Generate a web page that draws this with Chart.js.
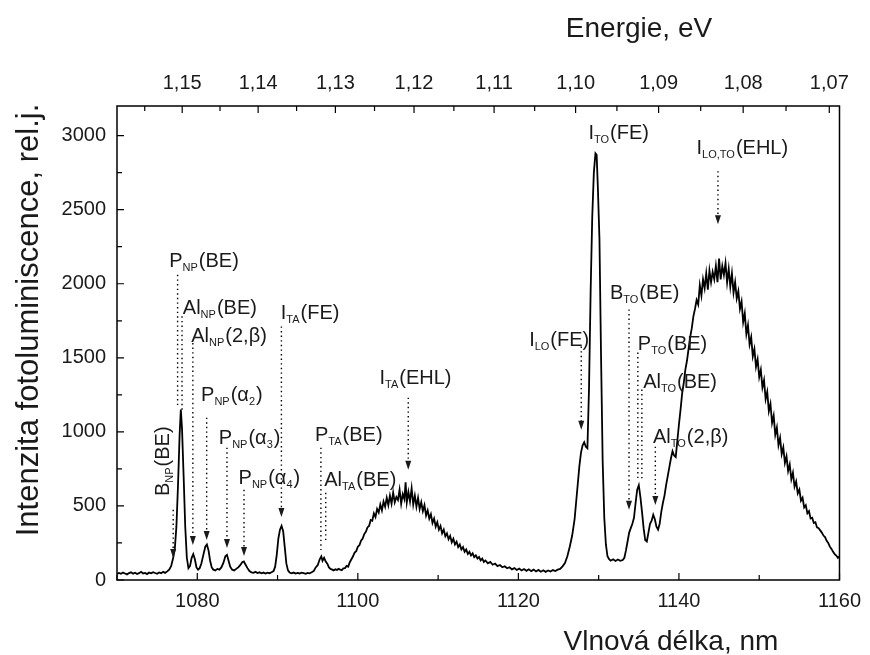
<!DOCTYPE html>
<html>
<head>
<meta charset="utf-8">
<script src="https://cdn.jsdelivr.net/npm/chart.js@4.4.0/dist/chart.umd.min.js"></script>
<style>
  body { margin: 0; background: #fff; }
  canvas { display: block; }
</style>
</head>
<body>
<canvas id="plChart" width="870" height="655"></canvas>
<script>
// photoluminescence spectrum: wavelength (nm) and intensity (rel. units)
const wavelengthNm = [
  1070.0, 1070.25, 1070.5, 1070.75, 1071.0, 1071.25, 1071.5, 1071.75, 1072.0, 1072.25,
  1072.5, 1072.75, 1073.0, 1073.25, 1073.5, 1073.75, 1074.0, 1074.25, 1074.5, 1074.75,
  1075.0, 1075.25, 1075.5, 1075.75, 1076.0, 1076.25, 1076.5, 1076.75, 1077.0, 1077.2,
  1077.4, 1077.6, 1077.8, 1077.95, 1078.1, 1078.3, 1078.5, 1078.7, 1078.9, 1079.1,
  1079.3, 1079.5, 1079.7, 1079.9, 1080.1, 1080.3, 1080.5, 1080.8, 1081.0, 1081.2,
  1081.4, 1081.6, 1081.8, 1082.0, 1082.25, 1082.5, 1082.75, 1083.0, 1083.25, 1083.5,
  1083.7, 1083.9, 1084.1, 1084.35, 1084.6, 1084.85, 1085.1, 1085.35, 1085.6, 1085.8,
  1086.0, 1086.25, 1086.5, 1086.75, 1087.0, 1087.25, 1087.5, 1087.75, 1088.0, 1088.25,
  1088.5, 1088.75, 1089.0, 1089.25, 1089.5, 1089.7, 1089.9, 1090.1, 1090.3, 1090.5,
  1090.7, 1090.9, 1091.1, 1091.3, 1091.5, 1091.75, 1092.0, 1092.25, 1092.5, 1092.75,
  1093.0, 1093.25, 1093.5, 1093.75, 1094.0, 1094.25, 1094.5, 1094.75, 1095.0, 1095.25,
  1095.45, 1095.6, 1095.8, 1096.0, 1096.2, 1096.4, 1096.6, 1096.8, 1097.0, 1097.2,
  1097.4, 1097.6, 1097.8, 1098.0, 1098.2, 1098.4, 1098.6, 1098.8, 1099.0, 1099.2,
  1099.4, 1099.6, 1099.8, 1100.0, 1100.2, 1100.4, 1100.6, 1100.8, 1101.0, 1101.2,
  1101.4, 1101.6, 1101.8, 1102.0, 1102.2, 1102.4, 1102.6, 1102.8, 1103.0, 1103.2,
  1103.4, 1103.6, 1103.8, 1104.0, 1104.2, 1104.4, 1104.6, 1104.8, 1105.0, 1105.2,
  1105.4, 1105.6, 1105.8, 1105.95, 1106.1, 1106.3, 1106.5, 1106.7, 1106.9, 1107.1,
  1107.3, 1107.5, 1107.7, 1107.9, 1108.1, 1108.3, 1108.5, 1108.7, 1108.9, 1109.1,
  1109.3, 1109.5, 1109.7, 1109.9, 1110.1, 1110.3, 1110.5, 1110.7, 1110.9, 1111.1,
  1111.3, 1111.5, 1111.7, 1111.9, 1112.1, 1112.3, 1112.5, 1112.7, 1112.9, 1113.1,
  1113.3, 1113.5, 1113.7, 1113.9, 1114.1, 1114.3, 1114.5, 1114.7, 1114.9, 1115.1,
  1115.3, 1115.5, 1115.7, 1115.9, 1116.2, 1116.5, 1116.8, 1117.1, 1117.4, 1117.7,
  1118.0, 1118.3, 1118.6, 1118.9, 1119.2, 1119.5, 1119.8, 1120.1, 1120.4, 1120.7,
  1121.0, 1121.3, 1121.6, 1121.9, 1122.2, 1122.5, 1122.8, 1123.1, 1123.4, 1123.7,
  1124.0, 1124.3, 1124.6, 1124.9, 1125.2, 1125.5, 1125.8, 1126.1, 1126.4, 1126.7,
  1127.0, 1127.2, 1127.4, 1127.6, 1127.8, 1128.0, 1128.2, 1128.4, 1128.6, 1128.8,
  1129.0, 1129.2, 1129.4, 1129.6, 1129.75, 1129.9, 1130.1, 1130.3, 1130.5, 1130.7,
  1130.9, 1131.1, 1131.3, 1131.5, 1131.8, 1132.1, 1132.4, 1132.7, 1133.0, 1133.2,
  1133.4, 1133.6, 1133.8, 1134.0, 1134.2, 1134.4, 1134.6, 1134.8, 1135.0, 1135.2,
  1135.4, 1135.6, 1135.8, 1136.0, 1136.2, 1136.4, 1136.6, 1136.8, 1137.0, 1137.2,
  1137.4, 1137.6, 1137.8, 1138.0, 1138.2, 1138.4, 1138.6, 1138.8, 1139.0, 1139.2,
  1139.4, 1139.6, 1139.8, 1140.0, 1140.2, 1140.4, 1140.6, 1140.8, 1141.0, 1141.2,
  1141.4, 1141.6, 1141.8, 1142.0, 1142.2, 1142.4, 1142.6, 1142.8, 1143.0, 1143.2,
  1143.4, 1143.6, 1143.8, 1144.0, 1144.2, 1144.4, 1144.6, 1144.8, 1145.0, 1145.2,
  1145.4, 1145.6, 1145.8, 1146.0, 1146.2, 1146.4, 1146.6, 1146.8, 1147.0, 1147.2,
  1147.4, 1147.6, 1147.8, 1148.0, 1148.2, 1148.4, 1148.6, 1148.8, 1149.0, 1149.2,
  1149.4, 1149.6, 1149.8, 1150.0, 1150.2, 1150.4, 1150.6, 1150.8, 1151.0, 1151.2,
  1151.4, 1151.6, 1151.8, 1152.0, 1152.2, 1152.4, 1152.6, 1152.8, 1153.0, 1153.2,
  1153.4, 1153.6, 1153.8, 1154.0, 1154.2, 1154.4, 1154.6, 1154.8, 1155.0, 1155.2,
  1155.4, 1155.6, 1155.8, 1156.0, 1156.2, 1156.4, 1156.6, 1156.8, 1157.0, 1157.2,
  1157.4, 1157.6, 1157.8, 1158.0, 1158.2, 1158.4, 1158.6, 1158.8, 1159.0, 1159.2,
  1159.4, 1159.6, 1159.8, 1160.0
];
const intensity = [
  40, 48, 42, 50, 44, 38, 47, 52, 43, 49,
  41, 46, 55, 44, 48, 40, 50, 45, 53, 47,
  42, 51, 46, 55, 48, 58, 70, 95, 150, 210,
  360, 640, 980, 1150, 1020, 700, 360, 150, 80, 95,
  150, 175, 140, 85, 70, 80, 110, 180, 225, 240,
  200, 130, 85, 70, 65, 75, 70, 85, 115, 160,
  170, 130, 90, 70, 65, 75, 85, 100, 120, 125,
  105, 80, 60, 52, 48, 55, 47, 52, 45, 50,
  44, 49, 46, 52, 60, 90, 170, 280, 340, 365,
  330, 220, 110, 65, 50, 45, 50, 43, 48, 44,
  50, 46, 42, 48, 45, 52, 60, 85, 100, 140,
  160, 130, 150, 125, 110, 85, 75, 70, 65, 72,
  68, 75, 70, 66, 78, 80, 95, 90, 120, 140,
  160, 185, 195, 225, 235, 265, 280, 310, 325, 355,
  365, 405, 400, 450, 425, 480, 455, 510, 470, 530,
  495, 555, 505, 570, 515, 590, 525, 560, 540, 610,
  515, 580, 545, 660, 525, 595, 530, 620, 510, 570,
  495, 555, 480, 525, 465, 505, 435, 470, 415, 445,
  385, 415, 360, 390, 340, 365, 315, 340, 295, 315,
  275, 298, 255, 278, 240, 258, 222, 240, 206, 222,
  190, 206, 176, 190, 165, 180, 154, 166, 145, 155,
  132, 144, 122, 132, 113, 122, 103, 111, 94, 101,
  86, 93, 79, 86, 72, 80, 68, 77, 64, 74,
  62, 72, 60, 70, 58, 68, 56, 66, 55, 64,
  57, 67, 60, 70, 75, 92, 115, 160, 225, 300,
  410, 530, 650, 770, 860, 910, 930, 900, 890, 1300,
  1950, 2450, 2750, 2880, 2870, 2650, 2300, 1500, 800, 420,
  240, 160, 140, 130, 140, 128, 138, 130, 135, 150,
  200, 260, 320, 350, 380, 420, 520, 610, 640, 560,
  460, 350, 270, 260, 320, 380, 400, 440, 410, 360,
  340, 380, 460, 520, 570, 640, 700, 760, 820, 870,
  840, 830, 940, 1050, 1150, 1260, 1330, 1420, 1480, 1560,
  1640, 1700, 1780, 1830, 1890, 1860, 1990, 1920, 2030, 1970,
  2070, 1960, 2090, 2010, 2080, 2030, 2120, 2010, 2170, 2030,
  2120, 2060, 2140, 2010, 2100, 1980, 2070, 1940, 2010, 1900,
  1950, 1830, 1880, 1740, 1800, 1660, 1720, 1590, 1640, 1510,
  1560, 1440, 1490, 1370, 1420, 1300, 1350, 1220, 1270, 1140,
  1190, 1060, 1110, 980, 1030, 910, 960, 850, 895, 790,
  835, 735, 780, 680, 725, 630, 665, 585, 610, 535,
  555, 490, 505, 450, 465, 415, 420, 385, 390, 355,
  350, 335, 320, 300, 290, 265, 250, 225, 210, 190,
  175, 165, 150, 160
];

// y axis ticks (rel. units), labels every 500
const intensityTicks = [0, 250, 500, 750, 1000, 1250, 1500, 1750, 2000, 2250, 2500, 2750, 3000];

// top axis: photon energy in eV (ticks every 0.005 eV, labels every 0.01 eV)
const energyTicks = [1.155, 1.15, 1.145, 1.14, 1.135, 1.13, 1.125, 1.12, 1.115,
  1.11, 1.105, 1.10, 1.095, 1.09, 1.085, 1.08, 1.075, 1.07];
const energyLabels = ['', '1,15', '', '1,14', '', '1,13', '', '1,12', '',
  '1,11', '', '1,10', '', '1,09', '', '1,08', '', '1,07'];
const HC = 1239.84; // eV*nm

// peak assignments: label (with _{sub}), label position, dotted line and its end
const peakNotes = [
  { t: 'B_{NP}(BE)', lx: 1075.55, ly: 802, rot: true, x: 1077.0, top: 474, end: 149, arrow: true },
  { t: 'P_{NP}(BE)', lx: 1076.5, ly: 2160, x: 1077.55, top: 2060, end: 1170, arrow: false },
  { t: 'Al_{NP}(BE)', lx: 1078.2, ly: 1840, x: 1078.1, top: 1780, end: 1150, arrow: false },
  { t: 'Al_{NP}(2,β)', lx: 1079.25, ly: 1651, x: 1079.45, top: 1600, end: 237, arrow: true },
  { t: 'P_{NP}(α_{2})', lx: 1080.47, ly: 1255, x: 1081.17, top: 1096, end: 270, arrow: true },
  { t: 'P_{NP}(α_{3})', lx: 1082.68, ly: 964, x: 1083.7, top: 893, end: 216, arrow: true },
  { t: 'P_{NP}(α_{4})', lx: 1085.14, ly: 693, x: 1085.82, top: 609, end: 162, arrow: true },
  { t: 'I_{TA}(FE)', lx: 1090.4, ly: 1806, x: 1090.48, top: 1712, end: 426, arrow: true },
  { t: 'P_{TA}(BE)', lx: 1094.66, ly: 984, x: 1095.4, top: 893, end: 203, arrow: false },
  { t: 'Al_{TA}(BE)', lx: 1095.82, ly: 683, x: 1096.0, top: 589, end: 270, arrow: false },
  { t: 'I_{TA}(EHL)', lx: 1102.7, ly: 1370, x: 1106.28, top: 1231, end: 744, arrow: true },
  { t: 'I_{LO}(FE)', lx: 1121.34, ly: 1624, x: 1127.83, top: 1576, end: 1015, arrow: true },
  { t: 'I_{TO}(FE)', lx: 1128.73, ly: 3024 },
  { t: 'I_{LO,TO}(EHL)', lx: 1142.19, ly: 2923, x: 1144.86, top: 2760, end: 2402, arrow: true },
  { t: 'B_{TO}(BE)', lx: 1131.4, ly: 1945, x: 1133.78, top: 1827, end: 474, arrow: true },
  { t: 'P_{TO}(BE)', lx: 1134.88, ly: 1597, x: 1134.88, top: 1536, end: 677, arrow: false },
  { t: 'Al_{TO}(BE)', lx: 1135.54, ly: 1346, x: 1135.38, top: 1286, end: 677, arrow: false },
  { t: 'Al_{TO}(2,β)', lx: 1136.77, ly: 974, x: 1137.06, top: 900, end: 507, arrow: true }
];

const FONT = '"Liberation Sans", Arial, Helvetica, sans-serif';
const INK = '#1a1a1a';
const LABEL_SIZE = 20;
const SUB_SIZE = 11;

function splitRich(str) {
  const parts = [];
  const re = /_\{([^}]*)\}/g;
  let last = 0, m;
  while ((m = re.exec(str))) {
    parts.push([str.slice(last, m.index), false]);
    parts.push([m[1], true]);
    last = re.lastIndex;
  }
  parts.push([str.slice(last), false]);
  return parts.filter(p => p[0]);
}

function richWidth(ctx, parts) {
  let w = 0;
  parts.forEach(([txt, sub]) => {
    ctx.font = (sub ? SUB_SIZE : LABEL_SIZE) + 'px ' + FONT;
    w += ctx.measureText(txt).width + (sub ? 1 : 0);
  });
  return w;
}

function drawRich(ctx, parts, x, y) {
  let cx = x;
  parts.forEach(([txt, sub]) => {
    ctx.font = (sub ? SUB_SIZE : LABEL_SIZE) + 'px ' + FONT;
    ctx.fillText(txt, cx, sub ? y + 4 : y);
    cx += ctx.measureText(txt).width + (sub ? 1 : 0);
  });
}

const peakLabels = {
  id: 'peakLabels',
  afterDatasetsDraw(chart) {
    const { ctx, scales: { x, y } } = chart;
    ctx.save();
    ctx.fillStyle = INK;
    ctx.strokeStyle = '#000';
    ctx.textBaseline = 'alphabetic';
    ctx.textAlign = 'left';
    peakNotes.forEach(n => {
      const parts = splitRich(n.t);
      const px = x.getPixelForValue(n.lx);
      const py = y.getPixelForValue(n.ly);
      if (n.rot) {
        ctx.save();
        ctx.translate(px + 7, py);
        ctx.rotate(-Math.PI / 2);
        drawRich(ctx, parts, -richWidth(ctx, parts) / 2, 0);
        ctx.restore();
      } else {
        drawRich(ctx, parts, px, py + 7);
      }
      if (n.x === undefined) return;
      const lx = x.getPixelForValue(n.x);
      const y0 = y.getPixelForValue(n.top);
      const y1 = y.getPixelForValue(n.end);
      ctx.lineWidth = 1.4;
      ctx.setLineDash([1.4, 3.2]);
      ctx.beginPath();
      ctx.moveTo(lx, y0);
      ctx.lineTo(lx, n.arrow ? y1 - 7 : y1);
      ctx.stroke();
      ctx.setLineDash([]);
      if (n.arrow) {
        ctx.beginPath();
        ctx.moveTo(lx - 3, y1 - 9);
        ctx.lineTo(lx + 3, y1 - 9);
        ctx.lineTo(lx, y1);
        ctx.closePath();
        ctx.fill();
      }
    });
    ctx.restore();
  }
};

const axisFrame = {
  id: 'axisFrame',
  afterDraw(chart) {
    const { ctx, chartArea: a, scales } = chart;
    ctx.save();
    ctx.strokeStyle = '#000';
    ctx.lineWidth = 1.5;
    ctx.strokeRect(a.left, a.top, a.right - a.left, a.bottom - a.top);

    // inward tick marks
    ctx.lineWidth = 1.2;
    ctx.beginPath();
    scales.x.ticks.forEach(t => {
      const px = scales.x.getPixelForValue(t.value);
      const len = t.value % 20 === 0 ? 7 : 5;
      ctx.moveTo(px, a.bottom);
      ctx.lineTo(px, a.bottom - len);
    });
    scales.y.ticks.forEach(t => {
      const py = scales.y.getPixelForValue(t.value);
      const len = t.value % 500 === 0 ? 7 : 5;
      ctx.moveTo(a.left, py);
      ctx.lineTo(a.left + len, py);
    });
    scales.x2.ticks.forEach((t, i) => {
      const px = scales.x2.getPixelForValue(t.value);
      const len = energyLabels[i] ? 7 : 5;
      ctx.moveTo(px, a.top);
      ctx.lineTo(px, a.top + len);
    });
    ctx.stroke();

    // axis titles
    ctx.fillStyle = INK;
    ctx.textAlign = 'center';
    ctx.textBaseline = 'alphabetic';
    ctx.font = '28px ' + FONT;
    ctx.fillText('Vlnová délka, nm', 671, 650);
    ctx.fillText('Energie, eV', 639, 37);
    ctx.font = '31px ' + FONT;
    ctx.translate(38, 320);
    ctx.rotate(-Math.PI / 2);
    ctx.fillText('Intenzita fotoluminiscence, rel.j.', 0, 0);
    ctx.restore();
  }
};

const tickFont = { family: FONT, size: 20 };

new Chart(document.getElementById('plChart'), {
  type: 'line',
  data: {
    datasets: [{
      data: wavelengthNm.map((w, i) => ({ x: w, y: intensity[i] })),
      borderColor: '#000',
      borderWidth: 1.8,
      pointRadius: 0,
      tension: 0,
      fill: false
    }]
  },
  options: {
    responsive: false,
    animation: false,
    devicePixelRatio: 1,
    layout: { padding: { right: 22 } },
    plugins: {
      legend: { display: false },
      tooltip: { enabled: false }
    },
    scales: {
      x: {
        type: 'linear',
        position: 'bottom',
        min: 1070,
        max: 1160,
        grid: { display: false, drawTicks: false },
        border: { display: false },
        ticks: {
          stepSize: 10,
          autoSkip: false,
          maxRotation: 0,
          padding: 9,
          color: INK,
          font: tickFont,
          callback: v => (v % 20 === 0 ? String(v) : '')
        },
        afterFit: s => { s.height = 75; }
      },
      x2: {
        type: 'linear',
        position: 'top',
        min: 1070,
        max: 1160,
        grid: { display: false, drawTicks: false },
        border: { display: false },
        afterBuildTicks: s => { s.ticks = energyTicks.map(e => ({ value: HC / e })); },
        ticks: {
          autoSkip: false,
          maxRotation: 0,
          padding: 11,
          color: INK,
          font: tickFont,
          callback: (v, i) => energyLabels[i]
        },
        afterFit: s => { s.height = 106; }
      },
      y: {
        min: 0,
        max: 3200,
        grid: { display: false, drawTicks: false },
        border: { display: false },
        afterBuildTicks: s => { s.ticks = intensityTicks.map(v => ({ value: v })); },
        ticks: {
          autoSkip: false,
          padding: 11,
          color: INK,
          font: tickFont,
          callback: v => (v % 500 === 0 ? String(v) : '')
        },
        afterFit: s => { s.width = 117; }
      }
    }
  },
  plugins: [peakLabels, axisFrame]
});
</script>
</body>
</html>
